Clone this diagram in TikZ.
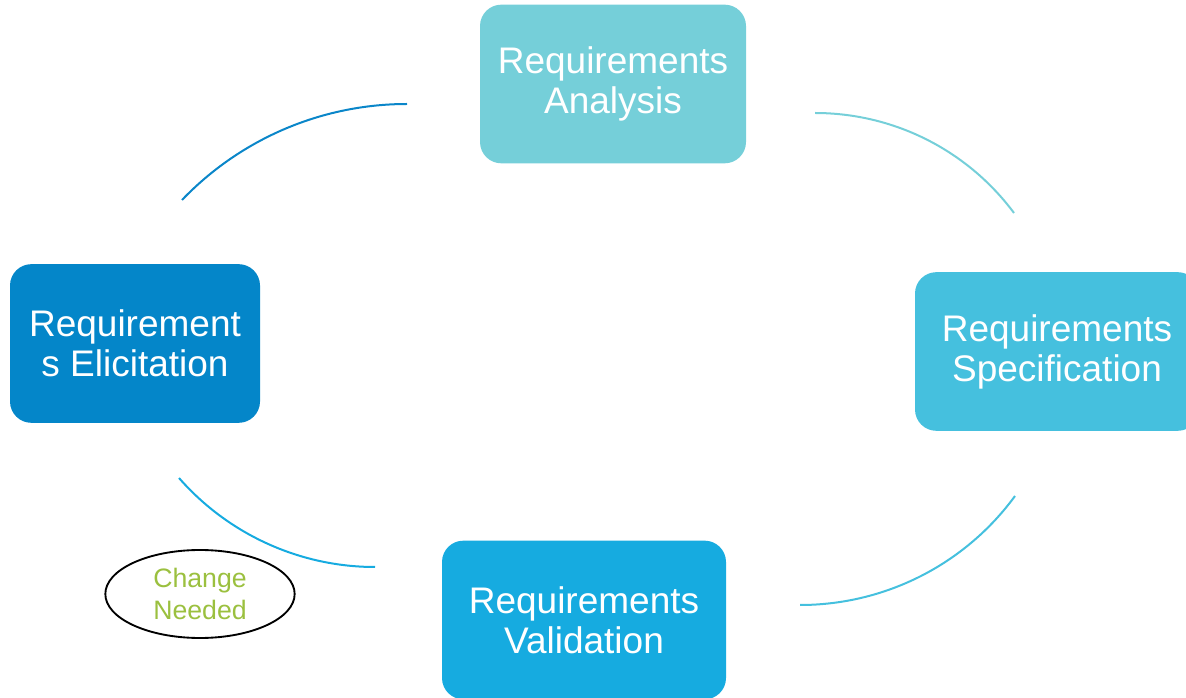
\documentclass[tikz,border=0pt]{standalone}
\usepackage{fontspec}
\setmainfont{Liberation Sans}
\usetikzlibrary{shapes.geometric}
\definecolor{cAna}{HTML}{75CFD9}
\definecolor{cSpec}{HTML}{45C0DE}
\definecolor{cVal}{HTML}{16ABE0}
\definecolor{cEli}{HTML}{0486C9}
\definecolor{cArcTL}{HTML}{0A86C9}
\definecolor{cGreen}{HTML}{9BC03F}
\tikzset{
  stagebox/.style={rounded corners=16pt, inner sep=0pt, align=center, text=white,
    font=\fontsize{27.75}{30}\selectfont, minimum height=119pt},
  arcline/.style={line width=1.5pt},
  notebubble/.style={ellipse, draw=black, line width=1.4pt, inner sep=0pt,
    minimum width=142pt, minimum height=66pt, align=center, text=cGreen,
    font=\fontsize{20}{24}\selectfont}
}
\begin{document}
\begin{tikzpicture}[x=0.75pt,y=-0.75pt]
\useasboundingbox (0,0) rectangle (1186,698);
\clip (0,0) rectangle (1186,698);
\node[stagebox, fill=cAna, minimum width=199.5pt] (ana) at (613,84) {Requirements\\Analysis};
\node[stagebox, fill=cSpec, minimum width=213pt] (spec) at (1057,351.5) {Requirements\\Specification};
\node[stagebox, fill=cVal, minimum width=213pt] (val) at (584,620) {Requirements\\Validation};
\node[stagebox, fill=cEli, minimum width=187.5pt] (eli) at (135,343.5) {Requirement\\s Elicitation};
\node[notebubble] (chg) at (200,594) {Change\\Needed};
% arc end points
\coordinate (tlA) at (182,200);
\coordinate (tlB) at (407,104);
\coordinate (trA) at (815,113);
\coordinate (trB) at (1014,213);
\coordinate (brA) at (1015,496);
\coordinate (brB) at (800,605);
\coordinate (blA) at (179,478);
\coordinate (blB) at (375,567);
\draw[arcline, draw=cArcTL] (tlA) .. controls (240.7,138.7) and (322,104) .. (tlB);
\draw[arcline, draw=cAna] (trA) .. controls (893.5,113) and (967.2,150) .. (trB);
\draw[arcline, draw=cSpec] (brA) .. controls (964.8,564.6) and (885,605) .. (brB);
\draw[arcline, draw=cVal] (blA) .. controls (228.4,534.4) and (300,567) .. (blB);
\end{tikzpicture}
\end{document}
